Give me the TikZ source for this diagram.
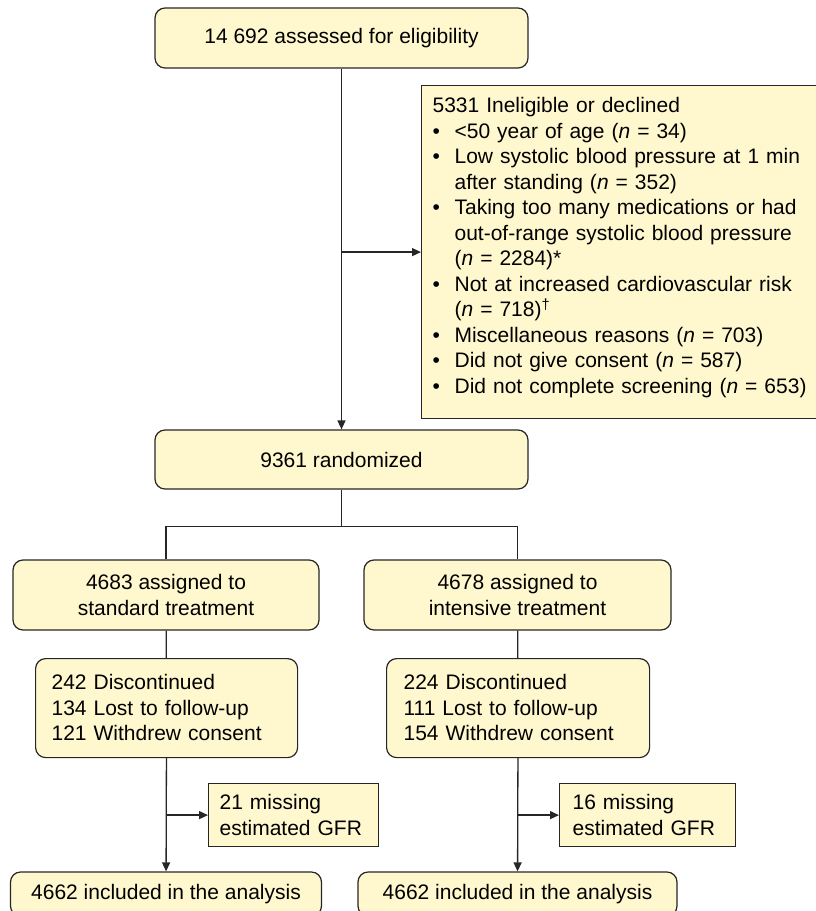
\documentclass[tikz,border=0pt]{standalone}
\usepackage{fontspec}
\setmainfont{Liberation Sans}
\usepackage{tikz}
\usetikzlibrary{arrows.meta}
\definecolor{boxfill}{HTML}{FFF8CF}
\definecolor{boxline}{HTML}{262626}
\newcommand{\boxfont}{\fontsize{21pt}{25.5pt}\selectfont}
\newcommand{\bul}{\makebox[22pt][l]{•}}
\newcommand{\cont}{\hspace*{22pt}}
\tikzset{
  stage/.style={draw=boxline,fill=boxfill,rounded corners=10pt,line width=1.2pt,
    align=center,inner sep=0pt,font=\boxfont},
  tally/.style={stage,align=left,anchor=north west,inner ysep=0pt},
  note/.style={draw=boxline,fill=boxfill,line width=1.2pt,align=left,
    anchor=north west,inner ysep=0pt,font=\boxfont},
  arrow/.style={-{Triangle[length=9pt,width=8pt]},draw=boxline,line width=1.3pt},
  link/.style={draw=boxline,line width=1.3pt}
}
\begin{document}
\begin{tikzpicture}[x=1pt,y=-1pt]
  \useasboundingbox (0,0) rectangle (815,911);
  % screening and exclusions
  \node[stage,minimum width=373pt,minimum height=60pt] (assess) at (341.5,38)
    {14 692 assessed for eligibility};
  \node[note,text width=380pt,inner xsep=11pt,text height=27pt,text depth=306pt]
    (excl) at (421,85) {5331 Ineligible or declined\\
    \bul{}<50 year of age (\textit{n} = 34)\\
    \bul{}Low systolic blood pressure at 1 min\\
    \cont{}after standing (\textit{n} = 352)\\
    \bul{}Taking too many medications or had\\
    \cont{}out-of-range systolic blood pressure\\
    \cont{}(\textit{n} = 2284)*\\
    \bul{}Not at increased cardiovascular risk\\
    \cont{}(\textit{n} = 718)\textsuperscript{†}\\
    \bul{}Miscellaneous reasons (\textit{n} = 703)\\
    \bul{}Did not give consent (\textit{n} = 587)\\
    \bul{}Did not complete screening (\textit{n} = 653)};
  \node[stage,minimum width=373pt,minimum height=59pt] (rand) at (341.5,459.5)
    {9361 randomized};
  % the two arms
  \node[stage,minimum width=306pt,minimum height=70pt] (std) at (166,595)
    {4683 assigned to\\standard treatment};
  \node[stage,minimum width=307pt,minimum height=70pt] (int) at (517.5,595)
    {4678 assigned to\\intensive treatment};
  \node[tally,text width=230pt,inner xsep=16pt,text height=31pt,text depth=68pt]
    (stdloss) at (35,658) {242 Discontinued\\134 Lost to follow-up\\121 Withdrew consent};
  \node[tally,text width=229pt,inner xsep=17pt,text height=31pt,text depth=68pt]
    (intloss) at (386,658) {224 Discontinued\\111 Lost to follow-up\\154 Withdrew consent};
  \node[note,text width=148pt,inner xsep=11pt,text height=26pt,text depth=37pt]
    (stdmiss) at (208,783) {21 missing\\estimated GFR};
  \node[note,text width=150pt,inner xsep=13pt,text height=26pt,text depth=37pt]
    (intmiss) at (559,783) {16 missing\\estimated GFR};
  \node[stage,minimum width=311pt,minimum height=44pt] (stdincl) at (166,894)
    {4662 included in the analysis};
  \node[stage,minimum width=319pt,minimum height=44pt] (intincl) at (517.5,894)
    {4662 included in the analysis};
  % connectors
  \draw[arrow] (assess) -- (rand);
  \draw[arrow] (assess.south |- excl.west) -- (excl.west);
  \path (rand.south) ++(0,37) coordinate (split);
  \draw[link] (rand.south) -- (split);
  \draw[link] (std.north) |- (split) -| (int.north);
  \draw[link] (std) -- (stdloss);
  \draw[link] (int) -- (intloss);
  \draw[arrow] (stdloss) -- (stdincl);
  \draw[arrow] (intloss) -- (intincl);
  \draw[arrow] (stdloss.south |- stdmiss.west) -- (stdmiss.west);
  \draw[arrow] (intloss.south |- intmiss.west) -- (intmiss.west);
\end{tikzpicture}
\end{document}
